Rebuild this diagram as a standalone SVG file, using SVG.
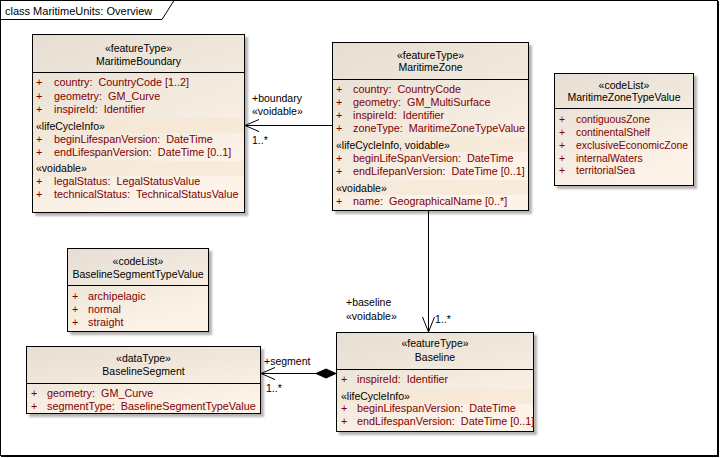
<svg xmlns="http://www.w3.org/2000/svg" width="720" height="458" viewBox="0 0 720 458">
<defs>
<linearGradient id="fillg" x1="0" y1="0" x2="0.5" y2="1">
<stop offset="0" stop-color="#e6ded2"/>
<stop offset="1" stop-color="#fdf3e8"/>
</linearGradient>
<filter id="blur" x="-10%" y="-10%" width="120%" height="120%"><feGaussianBlur stdDeviation="1"/></filter>
<style>
text{font-family:"Liberation Sans",Arial,sans-serif;font-size:10.5px;white-space:pre;fill:#000}
.hd{text-anchor:middle}
.at{fill:#800000;font-size:10.8px}
.cl{fill:#800000;font-size:10.4px}
.box{fill:url(#fillg);stroke:#000;stroke-width:1}
.sh{fill:#b4b4b4;filter:url(#blur)}
.dv{stroke:#000;stroke-width:1}
.band{fill:#f6e6d2;opacity:0.6}
.ln{stroke:#000;stroke-width:1;fill:none}
.ttl{font-size:11px}
</style>
</defs>
<rect x="0" y="0" width="720" height="458" fill="#fff"/>
<g id="frame">
<rect x="0.5" y="0.5" width="717" height="455" fill="none" stroke="#000"/>
<line x1="718.5" y1="1" x2="718.5" y2="457" stroke="#000"/>
<line x1="1" y1="456.5" x2="719" y2="456.5" stroke="#000"/>
<path d="M0.5,19.5 H162 L174,0.5" fill="none" stroke="#000"/>
<text class="ttl" x="5" y="15">class MaritimeUnits: Overview</text>
</g>

<g id="MaritimeBoundary">
<rect class="sh" x="35" y="37" width="213" height="179"/>
<rect class="box" x="32.5" y="34.5" width="212" height="178"/>
<line class="dv" x1="32.5" y1="72.5" x2="244.5" y2="72.5"/>
<rect class="band" x="33" y="118" width="211" height="15"/>
<rect class="band" x="33" y="161" width="211" height="15"/>
<text class="hd" x="138.5" y="52">«featureType»</text>
<text class="hd" x="138.5" y="65">MaritimeBoundary</text>
<text class="at" x="36" y="86">+</text><text class="at" x="54" y="86">country:  CountryCode [1..2]</text>
<text class="at" x="36" y="100">+</text><text class="at" x="54" y="100">geometry:  GM_Curve</text>
<text class="at" x="36" y="113">+</text><text class="at" x="54" y="113">inspireId:  Identifier</text>
<text x="36" y="130">«lifeCycleInfo»</text>
<text class="at" x="36" y="143">+</text><text class="at" x="54" y="143">beginLifespanVersion:  DateTime</text>
<text class="at" x="36" y="156">+</text><text class="at" x="54" y="156">endLifespanVersion:  DateTime [0..1]</text>
<text x="36" y="172">«voidable»</text>
<text class="at" x="36" y="185">+</text><text class="at" x="54" y="185">legalStatus:  LegalStatusValue</text>
<text class="at" x="36" y="198">+</text><text class="at" x="54" y="198">technicalStatus:  TechnicalStatusValue</text>
</g>

<g id="MaritimeZone">
<rect class="sh" x="335" y="45" width="197" height="169"/>
<rect class="box" x="332.5" y="42.5" width="196" height="168"/>
<line class="dv" x1="332.5" y1="79.5" x2="528.5" y2="79.5"/>
<rect class="band" x="333" y="137" width="195" height="15"/>
<rect class="band" x="333" y="180" width="195" height="15"/>
<text class="hd" x="430.5" y="59">«featureType»</text>
<text class="hd" x="430.5" y="71">MaritimeZone</text>
<text class="at" x="336" y="93">+</text><text class="at" x="353" y="93">country:  CountryCode</text>
<text class="at" x="336" y="106">+</text><text class="at" x="353" y="106">geometry:  GM_MultiSurface</text>
<text class="at" x="336" y="119">+</text><text class="at" x="353" y="119">inspireId:  Identifier</text>
<text class="at" x="336" y="132">+</text><text class="at" x="353" y="132">zoneType:  MaritimeZoneTypeValue</text>
<text x="336" y="149">«lifeCycleInfo, voidable»</text>
<text class="at" x="336" y="162">+</text><text class="at" x="353" y="162">beginLifeSpanVersion:  DateTime</text>
<text class="at" x="336" y="175">+</text><text class="at" x="353" y="175">endLifepanVersion:  DateTime [0..1]</text>
<text x="336" y="192">«voidable»</text>
<text class="at" x="336" y="205">+</text><text class="at" x="353" y="205">name:  GeographicalName [0..*]</text>
</g>

<g id="MaritimeZoneTypeValue">
<rect class="sh" x="557" y="76" width="140" height="113"/>
<rect class="box" x="554.5" y="73.5" width="139" height="112"/>
<line class="dv" x1="554.5" y1="108.5" x2="693.5" y2="108.5"/>
<text class="hd" x="624" y="89">«codeList»</text>
<text class="hd" x="624" y="101">MaritimeZoneTypeValue</text>
<text class="cl" x="559" y="123">+</text><text class="cl" x="576" y="123">contiguousZone</text>
<text class="cl" x="559" y="136">+</text><text class="cl" x="576" y="136">continentalShelf</text>
<text class="cl" x="559" y="149">+</text><text class="cl" x="576" y="149">exclusiveEconomicZone</text>
<text class="cl" x="559" y="162">+</text><text class="cl" x="576" y="162">internalWaters</text>
<text class="cl" x="559" y="174">+</text><text class="cl" x="576" y="174">territorialSea</text>
</g>

<g id="BaselineSegmentTypeValue">
<rect class="sh" x="70" y="251" width="142" height="84"/>
<rect class="box" x="67.5" y="248.5" width="141" height="83"/>
<line class="dv" x1="67.5" y1="285.5" x2="208.5" y2="285.5"/>
<text class="hd" x="138" y="265">«codeList»</text>
<text class="hd" x="138" y="278">BaselineSegmentTypeValue</text>
<text class="at" x="72" y="300">+</text><text class="at" x="88" y="300">archipelagic</text>
<text class="at" x="72" y="313">+</text><text class="at" x="88" y="313">normal</text>
<text class="at" x="72" y="326">+</text><text class="at" x="88" y="326">straight</text>
</g>

<g id="BaselineSegment">
<rect class="sh" x="29" y="349" width="235" height="68"/>
<rect class="box" x="26.5" y="346.5" width="234" height="67"/>
<line class="dv" x1="26.5" y1="383.5" x2="260.5" y2="383.5"/>
<text class="hd" x="143.5" y="362">«dataType»</text>
<text class="hd" x="143.5" y="375">BaselineSegment</text>
<text class="at" x="31" y="397">+</text><text class="at" x="47" y="397">geometry:  GM_Curve</text>
<text class="at" x="31" y="410">+</text><text class="at" x="47" y="410">segmentType:  BaselineSegmentTypeValue</text>
</g>

<g id="Baseline">
<rect class="sh" x="339" y="335" width="198" height="100"/>
<rect class="box" x="336.5" y="332.5" width="197" height="99"/>
<line class="dv" x1="336.5" y1="369.5" x2="533.5" y2="369.5"/>
<rect class="band" x="337" y="389" width="196" height="15"/>
<text class="hd" x="435" y="347">«featureType»</text>
<text class="hd" x="435" y="361">Baseline</text>
<text class="at" x="341" y="383">+</text><text class="at" x="357" y="383">inspireId:  Identifier</text>
<text x="341" y="400">«lifeCycleInfo»</text>
<text class="at" x="341" y="412">+</text><text class="at" x="357" y="412">beginLifespanVersion:  DateTime</text>
<text class="at" x="341" y="425">+</text><text class="at" x="357" y="425">endLifespanVersion:  DateTime [0..1]</text>
</g>

<g id="connectors">
<line class="ln" x1="332" y1="125.5" x2="245" y2="125.5"/>
<path class="ln" d="M259,119.5 L245,125.5 L259,131.5"/>
<text x="252" y="102">+boundary</text>
<text x="252" y="115">«voidable»</text>
<text x="252" y="144">1..*</text>

<line class="ln" x1="428.5" y1="211" x2="428.5" y2="332"/>
<path class="ln" d="M422.5,317 L428.5,332 L434.5,317"/>
<text x="346" y="306">+baseline</text>
<text x="346" y="320">«voidable»</text>
<text x="435" y="323">1..*</text>

<line class="ln" x1="316" y1="373.5" x2="261" y2="373.5"/>
<polygon points="336,373.5 326,369 316,373.5 326,378" fill="#000" stroke="#000"/>
<path class="ln" d="M275,367.5 L261,373.5 L275,379.5"/>
<text x="264" y="365">+segment</text>
<text x="266" y="392">1..*</text>
</g>
</svg>
